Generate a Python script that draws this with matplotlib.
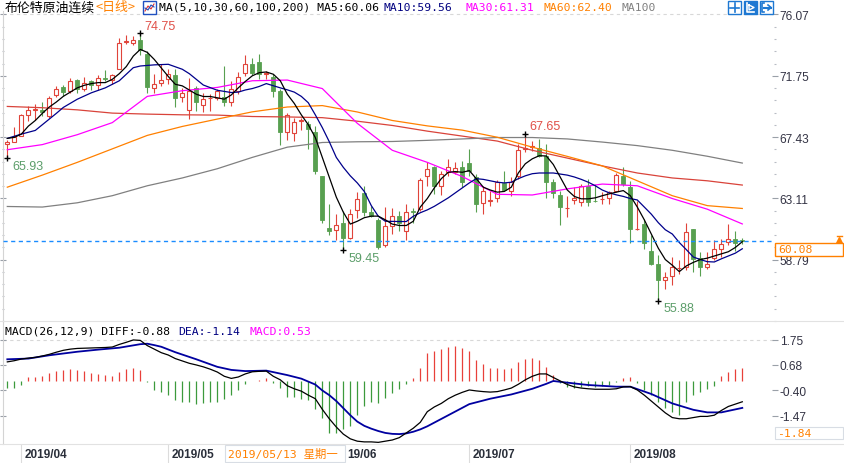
import numpy as np
import matplotlib
matplotlib.use("Agg")
import matplotlib.pyplot as plt
from matplotlib.patches import Rectangle
from matplotlib.lines import Line2D
from matplotlib.transforms import IdentityTransform

W, H = 845, 464

# ---------------- data ----------------
opens = [66.95, 67.10, 67.53, 69.00, 69.35, 69.35, 68.93, 70.43, 70.97, 70.66,
         71.44, 70.80, 71.37, 71.11, 71.60, 71.44, 72.25, 74.13, 74.03, 74.25,
         73.31, 70.92, 71.27, 71.50, 71.79, 70.29, 69.33, 70.92, 69.70, 70.15,
         70.22, 70.29, 69.87, 70.69, 71.93, 72.56, 72.72, 71.90, 71.69, 70.69,
         67.80, 67.69, 68.58, 68.34, 67.76, 64.67, 61.04, 60.90, 61.39, 60.31,
         62.26, 63.47, 62.14, 61.62, 59.80, 61.16, 61.86, 60.80, 62.20, 62.33,
         64.72, 65.30, 64.00, 64.95, 65.00, 65.30, 65.58, 64.60, 62.80, 62.96,
         63.12, 64.20, 63.66, 64.67, 66.60, 66.70, 66.63, 66.07, 64.25, 63.36,
         62.40, 63.00, 62.84, 63.97, 62.96, 63.05, 63.15, 63.66, 64.72, 63.90,
         60.92, 61.32, 59.40, 58.49, 57.34, 57.62, 58.20, 58.28, 60.92, 58.90,
         58.28, 58.90, 59.56, 60.03, 60.27, 60.15]
highs = [67.20, 68.11, 69.05, 69.59, 69.75, 69.87, 70.33, 71.04, 71.13, 71.60,
         71.51, 71.69, 71.44, 71.81, 72.14, 71.86, 74.39, 74.60, 74.55, 74.75,
         73.50, 71.86, 72.60, 72.21, 72.21, 70.92, 71.62, 71.04, 70.52, 70.45,
         70.80, 72.44, 71.39, 72.04, 73.21, 73.00, 73.26, 72.10, 71.86, 70.80,
         69.16, 68.81, 68.81, 68.58, 68.18, 64.72, 62.73, 62.02, 62.19, 62.33,
         63.54, 64.00, 62.60, 61.72, 62.49, 62.42, 62.19, 62.72, 62.42, 64.53,
         65.65, 65.42, 65.07, 65.89, 65.65, 65.77, 66.59, 64.83, 64.00, 63.66,
         64.43, 65.07, 64.60, 66.94, 67.65, 67.13, 67.29, 66.94, 64.48, 63.66,
         63.31, 63.90, 64.13, 64.48, 64.13, 63.54, 63.66, 64.90, 65.30, 64.36,
         62.96, 61.67, 60.50, 59.10, 57.93, 58.98, 58.74, 61.39, 60.97, 59.33,
         59.33, 60.15, 60.27, 61.32, 60.78, 60.30]
lows = [65.93, 67.05, 67.48, 68.58, 68.65, 68.93, 68.81, 70.29, 70.33, 70.52,
        70.52, 70.69, 70.76, 70.73, 71.37, 71.15, 72.21, 73.96, 73.89, 73.20,
        70.52, 70.52, 71.04, 71.15, 69.52, 69.87, 68.70, 69.28, 69.21, 69.28,
        70.05, 69.63, 69.59, 70.45, 71.74, 71.80, 71.50, 71.50, 70.29, 66.87,
        67.24, 67.17, 67.90, 66.60, 64.83, 61.39, 60.50, 60.15, 59.45, 60.22,
        61.72, 61.90, 61.79, 59.56, 59.68, 60.62, 60.80, 60.15, 61.39, 62.21,
        64.00, 63.43, 63.36, 64.72, 64.83, 63.90, 64.72, 62.14, 62.02, 62.56,
        62.89, 63.66, 63.31, 64.48, 66.35, 66.47, 66.00, 63.12, 63.12, 61.25,
        61.79, 62.72, 62.60, 62.56, 62.84, 62.72, 62.72, 63.54, 64.00, 59.99,
        60.90, 59.56, 58.39, 55.88, 56.76, 57.03, 57.80, 58.04, 57.93, 57.65,
        58.16, 58.74, 58.98, 59.80, 59.38, 59.90]
closes = [67.05, 67.41, 68.98, 69.33, 69.40, 69.21, 70.19, 70.85, 70.62, 71.37,
          70.85, 71.27, 71.13, 71.62, 71.55, 71.79, 74.03, 74.18, 74.25, 73.60,
          70.97, 71.20, 71.44, 71.86, 70.15, 70.57, 70.69, 69.91, 70.10, 70.20,
          70.69, 69.87, 70.80, 71.69, 72.56, 71.93, 71.90, 71.95, 70.69, 67.80,
          69.00, 68.46, 68.60, 67.99, 65.07, 61.62, 60.81, 61.20, 60.31, 62.02,
          63.08, 62.14, 61.86, 59.68, 61.16, 61.86, 61.39, 62.14, 62.15, 64.43,
          65.18, 64.00, 64.83, 65.30, 65.23, 64.29, 65.07, 62.72, 63.66, 62.98,
          64.25, 63.73, 64.29, 66.52, 66.65, 66.82, 66.07, 64.25, 63.47, 62.49,
          62.42, 63.12, 63.97, 62.89, 62.93, 63.08, 63.54, 64.76, 64.11, 60.92,
          60.97, 59.99, 58.46, 57.34, 57.57, 58.28, 58.23, 60.74, 58.86, 58.28,
          58.46, 59.56, 59.89, 60.22, 59.99, 60.08]

ma5 = [67.34, 67.41, 67.64, 68.20, 68.60, 69.10, 69.55, 69.90, 70.30, 70.60,
       70.90, 71.08, 71.20, 71.27, 71.27, 71.50, 71.90, 72.40, 73.14, 73.61,
       73.40, 72.90, 72.30, 71.70, 71.15, 71.04, 70.75, 70.45, 70.29, 70.29,
       70.20, 70.10, 70.40, 70.90, 71.35, 71.75, 71.97, 72.02, 71.86, 71.40,
       70.45, 69.80, 69.00, 68.30, 67.40, 66.00, 64.60, 63.20, 62.14, 61.30,
       61.50, 61.75, 61.86, 61.86, 61.60, 61.30, 61.20, 61.20, 61.50, 62.50,
       63.10, 63.85, 64.50, 64.95, 65.00, 64.95, 65.07, 64.50, 63.90, 63.70,
       63.55, 63.60, 63.90, 64.90, 65.55, 65.90, 66.12, 66.10, 65.50, 64.60,
       63.70, 63.25, 63.08, 63.08, 63.15, 63.30, 63.43, 63.55, 63.66, 63.30,
       62.50, 61.60, 60.60, 59.60, 58.80, 58.40, 57.95, 58.35, 58.60, 58.80,
       58.90, 59.05, 59.20, 59.35, 59.65, 60.06]

ma10_idx = [0, 2, 4, 5, 7, 8, 10, 12, 14, 16, 18, 19, 21, 23, 25, 26, 27, 28, 30, 32,
            33, 34, 35, 36, 37, 38, 39, 40, 41, 42, 43, 44, 45, 46, 47, 48, 49, 50, 51, 52,
            53, 54, 56, 57, 58, 59, 60, 61, 62, 63, 64, 65, 66, 67, 68, 69, 70, 71, 72, 73,
            74, 75, 76, 78, 80, 81, 82, 83, 84, 85, 86, 87, 88, 89, 90, 91, 92, 93, 94, 95,
            96, 97, 98, 99, 100, 101, 102, 103, 104, 105]
ma10 = [67.34, 67.64, 67.90, 68.30, 69.10, 69.52, 70.10, 70.55, 70.90, 71.40,
        72.32, 72.44, 72.52, 72.56, 72.21, 71.90, 71.50, 71.10, 70.73, 70.57,
        70.60, 70.75, 70.85, 71.00, 71.20, 71.05, 70.90, 70.76, 70.60, 70.30,
        69.85, 69.00, 68.10, 67.10, 66.00, 65.30, 64.70, 64.20, 63.60, 62.60,
        61.85, 61.50, 61.48, 61.48, 61.85, 62.10, 62.30, 62.55, 62.85, 63.15,
        63.50, 63.85, 64.20, 64.50, 64.45, 64.35, 64.25, 64.20, 64.25, 64.50,
        64.70, 64.85, 64.90, 64.90, 64.75, 64.62, 64.45, 64.25, 64.00, 63.70,
        63.50, 63.36, 63.25, 63.10, 63.00, 62.50, 62.00, 61.40, 60.90, 60.60,
        60.00, 59.50, 58.98, 58.80, 58.65, 58.63, 58.85, 59.05, 59.25, 59.56]

ma_long_idx = [0, 5, 10, 15, 20, 25, 30, 35, 40, 45, 50, 55, 60, 65, 70, 75, 80, 85, 90, 95, 100, 105]
ma30 = [66.54, 66.90, 67.60, 68.45, 70.30, 70.70, 70.93, 71.40, 71.45, 70.85, 68.40,
        66.50, 65.65, 64.65, 63.40, 63.35, 63.78, 64.12, 64.00, 63.10, 62.35, 61.31]
ma60 = [63.90, 64.75, 65.65, 66.60, 67.55, 68.18, 68.70, 69.21, 69.55, 69.65, 69.20,
        68.60, 68.22, 67.92, 67.42, 66.72, 66.07, 65.40, 64.35, 63.30, 62.60, 62.40]
ma100 = [62.54, 62.50, 62.80, 63.30, 64.00, 64.55, 65.20, 66.00, 66.72, 67.05, 67.10,
         67.12, 67.20, 67.30, 67.40, 67.40, 67.30, 67.08, 66.83, 66.50, 66.08, 65.60]
ma200 = [69.59, 69.50, 69.35, 69.12, 69.05, 69.00, 68.98, 68.88, 68.85, 68.80, 68.55,
         68.25, 67.85, 67.50, 67.15, 66.50, 65.95, 65.40, 64.90, 64.55, 64.35, 64.05]

diff = [0.81, 0.86, 0.93, 0.97, 1.00, 1.06, 1.13, 1.22, 1.30, 1.35,
        1.38, 1.39, 1.40, 1.41, 1.42, 1.44, 1.55, 1.64, 1.74, 1.72,
        1.50, 1.35, 1.20, 1.10, 0.95, 0.85, 0.75, 0.68, 0.60, 0.50,
        0.38, 0.20, 0.11, 0.17, 0.30, 0.39, 0.41, 0.42, 0.20, 0.05,
        -0.20, -0.33, -0.43, -0.60, -0.75, -1.20, -1.60, -1.95, -2.25, -2.45,
        -2.55, -2.58, -2.58, -2.60, -2.55, -2.50, -2.40, -2.20, -2.00, -1.75,
        -1.30, -1.10, -0.95, -0.75, -0.60, -0.48, -0.38, -0.42, -0.45, -0.47,
        -0.45, -0.38, -0.30, -0.14, 0.05, 0.20, 0.30, 0.30, 0.15, 0.00,
        -0.15, -0.25, -0.30, -0.33, -0.35, -0.35, -0.35, -0.33, -0.25, -0.24,
        -0.38, -0.60, -0.85, -1.10, -1.35, -1.55, -1.60, -1.60, -1.55, -1.50,
        -1.50, -1.45, -1.25, -1.08, -0.98, -0.88]
dea_idx = [0, 3, 6, 10, 13, 16, 19, 20, 21, 22, 24, 27, 30, 32, 34, 37, 40, 42, 44, 45,
           46, 47, 48, 49, 50, 51, 52, 53, 54, 55, 56, 57, 58, 59, 60, 63, 66, 69, 72, 75,
           77, 78, 80, 83, 87, 89, 92, 95, 98, 100, 102, 105]
dea = [0.92, 0.95, 1.09, 1.24, 1.33, 1.41, 1.56, 1.58, 1.52, 1.45,
       1.22, 0.92, 0.60, 0.47, 0.42, 0.44, 0.25, 0.10, -0.15, -0.40,
       -0.60, -0.85, -1.15, -1.45, -1.72, -1.90, -2.02, -2.12, -2.20, -2.24,
       -2.25, -2.22, -2.15, -2.05, -1.92, -1.45, -0.98, -0.75, -0.57, -0.33,
       -0.12, 0.00, -0.07, -0.17, -0.24, -0.24, -0.55, -0.95, -1.22, -1.33,
       -1.33, -1.14]
macd_hist = [-0.28, -0.28, -0.17, 0.15, 0.18, 0.21, 0.32, 0.43, 0.46, 0.52,
             0.46, 0.43, 0.32, 0.29, 0.25, 0.21, 0.39, 0.50, 0.57, 0.46,
             -0.05, -0.38, -0.45, -0.59, -0.80, -0.87, -0.91, -0.96, -0.94, -0.91,
             -0.87, -0.77, -0.59, -0.38, -0.13, 0.01, 0.04, 0.11, -0.07, -0.31,
             -0.66, -0.68, -0.77, -0.82, -1.19, -1.56, -2.19, -2.19, -2.05, -1.91,
             -1.42, -1.08, -0.87, -0.94, -0.73, -0.52, -0.35, -0.13, 0.11, 0.53,
             1.19, 1.27, 1.37, 1.44, 1.49, 1.41, 1.27, 0.88, 0.74, 0.53,
             0.53, 0.49, 0.53, 0.81, 0.95, 0.99, 0.91, 0.60, 0.25, -0.10,
             -0.24, -0.31, -0.24, -0.21, -0.24, -0.21, -0.17, -0.03, 0.11, 0.15,
             -0.10, -0.38, -0.59, -0.87, -1.15, -1.33, -1.42, -0.91, -0.59, -0.45,
             -0.35, -0.21, 0.20, 0.40, 0.50, 0.53]

month_idx = [2, 23, 46, 66, 89]
# the June label is partly hidden behind the cursor date box; only "19/06" shows
month_labels = ["2019/04", "2019/05", "19/06", "2019/07", "2019/08"]
month_label_shift = [3, 3, 17.5, 3, 3]
price_ticks = [58.79, 63.11, 67.43, 71.75, 76.07]
macd_ticks = [-1.47, -0.40, 0.68, 1.75]
last_price = 60.08
extremes = [(19, 74.75, "hi"), (0, 65.93, "lo"), (48, 59.45, "lo"),
            (74, 67.65, "hi"), (93, 55.88, "lo")]

# ---------------- styling ----------------
RED = "#e0443a"
GREEN = "#58a050"
ORANGE = "#ff8000"
NAVY = "#00008b"
MONO = "DejaVu Sans Mono"
CJK = ["Noto Sans CJK SC", "DejaVu Sans"]
SANS = "Liberation Sans"

fig = plt.figure(figsize=(W / 100, H / 100), dpi=100)
fig.patch.set_facecolor("white")


def px_axes(x0, y0, x1, y1):
    return fig.add_axes([x0 / W, 1 - y1 / H, (x1 - x0) / W, (y1 - y0) / H])


def ptext(x, y, s, **kw):
    kw.setdefault("va", "center")
    kw.setdefault("ha", "left")
    return fig.text(x, H - y, s, transform=IdentityTransform(), **kw)


def prect(x0, y0, x1, y1, **kw):
    r = Rectangle((x0, H - y1), x1 - x0, y1 - y0, transform=IdentityTransform(), **kw)
    fig.add_artist(r)
    return r


def pline(xs, ys, **kw):
    ln = Line2D(xs, [H - y for y in ys], transform=IdentityTransform(), **kw)
    fig.add_artist(ln)
    return ln


XL = (3 - 7.3) / 7.0
XR = (775 - 7.3) / 7.0

ax = px_axes(3, 12, 775, 322)
am = px_axes(3, 322, 775, 445)
ad = px_axes(3, 445, 775, 464)

for a in (ax, am, ad):
    a.set_xlim(XL, XR)
    a.set_xticks([])
    for s in ("top", "right", "bottom"):
        a.spines[s].set_visible(False)
    a.spines["left"].set_color("#d4d4d4")
    a.spines["left"].set_linewidth(0.8)
    a.patch.set_alpha(0)

# ---- price panel ----
ax.set_ylim(76.07 - 306.5 / 14.236, 76.07 + 3.5 / 14.236)
x = np.arange(len(closes))
o = np.array(opens); h = np.array(highs); l = np.array(lows); c = np.array(closes)
up = c >= o
dn = ~up

ax.vlines(x[up], np.maximum(o, c)[up], h[up], color=RED, lw=0.8, zorder=2)
ax.vlines(x[up], l[up], np.minimum(o, c)[up], color=RED, lw=0.8, zorder=2)
ax.bar(x[up], (c - o)[up], bottom=o[up], width=0.58, facecolor="white",
       edgecolor=RED, linewidth=0.8, zorder=3)
ax.vlines(x[dn], l[dn], h[dn], color=GREEN, lw=0.8, zorder=2)
ax.bar(x[dn], (c - o)[dn], bottom=o[dn], width=0.62, facecolor=GREEN,
       edgecolor=GREEN, linewidth=0.6, zorder=3)

ax.plot(ma_long_idx, ma200, color="#d9433a", lw=0.9, zorder=4)
ax.plot(ma_long_idx, ma100, color="#808080", lw=0.9, zorder=4)
ax.plot(ma_long_idx, ma60, color=ORANGE, lw=0.9, zorder=4)
ax.plot(ma_long_idx, ma30, color="#ff00ff", lw=0.9, zorder=4)
ax.plot(ma10_idx, ma10, color=NAVY, lw=0.9, zorder=4)
ax.plot(x, ma5, color="black", lw=0.9, zorder=5)

ax.axhline(last_price, color="#1a8cff", lw=1.0, ls=(0, (3, 2.5)), zorder=5)
ax.axhline(price_ticks[-1], color="#d8d8d8", lw=0.8, ls=(0, (3, 3)), zorder=1)

for idx, val, kind in extremes:
    ax.plot(idx, val, marker="+", color="black", ms=5, mew=1, zorder=6)
    if kind == "hi":
        ax.annotate(f"{val:.2f}", (idx, val), xytext=(4, 7.5), textcoords="offset pixels",
                    ha="left", va="center", color="#e05048", fontsize=9, family=SANS)
    else:
        ax.annotate(f"{val:.2f}", (idx, val), xytext=(5, -7.5), textcoords="offset pixels",
                    ha="left", va="center", color="#5c9e6a", fontsize=9, family=SANS)

ax.yaxis.tick_right()
ax.set_yticks(price_ticks)
ax.set_yticklabels([f"{v:.2f}" for v in price_ticks])
ax.set_yticks(np.arange(price_ticks[0] - 4.32, 76.1, 0.864), minor=True)
ax.tick_params(axis="y", which="major", direction="inout", length=4, width=0.8,
               color="#9aa0a8", pad=1.5, labelsize=8.6, labelcolor="#333344",
               left=True, right=True)
ax.tick_params(axis="y", which="minor", direction="inout", length=2, width=0.8,
               color="#b8bcc4", left=True, right=True)
for t in ax.get_yticklabels():
    t.set_family(SANS)

# ---- MACD panel ----
am.set_ylim(1.75 - 104.3 / 23.6, 1.75 + 18.7 / 23.6)
hist = np.array(macd_hist)
am.vlines(x[hist >= 0], 0, hist[hist >= 0], color="#e8403a", lw=0.9)
am.vlines(x[hist < 0], 0, hist[hist < 0], color="#3c9a3c", lw=0.9)
am.plot(x, diff, color="black", lw=0.9, zorder=4)
am.plot(dea_idx, dea, color="#0000a0", lw=1.3, zorder=3)
am.axhline(macd_ticks[-1], color="#d8d8d8", lw=0.8, ls=(0, (3, 3)), zorder=1)
am.yaxis.tick_right()
am.set_yticks(macd_ticks)
am.set_yticklabels([f"{v:.2f}" for v in macd_ticks])
am.tick_params(axis="y", direction="inout", length=4, width=0.8, color="#9aa0a8",
               pad=1.5, labelsize=8.6, labelcolor="#333344", left=True, right=True)
for t in am.get_yticklabels():
    t.set_family(SANS)

# ---- date strip ----
ad.set_ylim(0, 1)
ad.set_yticks([])
ad.spines["left"].set_visible(False)
ad.vlines(month_idx, 0, 1, color="#dcdcdc", lw=0.8)
for m, lab, dx in zip(month_idx, month_labels, month_label_shift):
    ad.annotate(lab, (m, 0.45), xytext=(dx, 0), textcoords="offset pixels", ha="left",
                va="center", fontsize=8.5, fontweight="bold", color="#2a2f3a", family=SANS)

# panel separators
pline([0, 845], [322, 322], color="#e2e2e2", lw=0.8)
pline([0, 845], [445, 445], color="#e2e2e2", lw=0.8)

# ---- header text ----
ptext(5, 8, "布伦特原油连续", family=CJK, fontsize=9.3, color="black")
ptext(96, 8, "<日线>", family=CJK, fontsize=9.3, color=ORANGE)
prect(143, 2, 156, 15, facecolor="white", edgecolor="#2050c0", lw=1)
pline([145, 148, 151, 154], [12, 7, 10, 5], color="#e03030", lw=0.8)
pline([145, 148, 151, 154], [9, 11, 6, 8], color="#2050c0", lw=0.8)
ptext(159, 8, "MA(5,10,30,60,100,200) MA5:60.06", family=MONO, fontsize=8.2, color="black")
ptext(383, 8, "MA10:59.56", family=MONO, fontsize=8.2, color="#000080")
ptext(465, 8, "MA30:61.31", family=MONO, fontsize=8.2, color="#ff00ff")
ptext(543, 8, "MA60:62.40", family=MONO, fontsize=8.2, color=ORANGE)
ptext(621, 8, "MA100", family=MONO, fontsize=8.2, color="#808080")

# toolbar icons
BLUE = "#1e78d2"
prect(728, 2, 741, 15, facecolor="white", edgecolor=BLUE, lw=1)
pline([734.5, 734.5], [4, 13], color=BLUE, lw=1.2)
pline([730, 739], [8.5, 8.5], color=BLUE, lw=1.2)
prect(744, 2, 757, 15, facecolor=BLUE, edgecolor=BLUE, lw=1)
pline([747, 747, 754], [4, 13, 13], color="white", lw=1.2)
pline([749, 749, 754, 749], [6, 11, 8.5, 6], color="white", lw=1.0)
prect(760, 2, 773, 15, facecolor="white", edgecolor=BLUE, lw=1)
pline([764, 762, 762, 764], [4, 4, 13, 13], color=BLUE, lw=1.2)
pline([764, 771], [8.5, 8.5], color=BLUE, lw=1.5)
pline([768, 771, 768], [6, 8.5, 11], color=BLUE, lw=1.2)

# last price box on the axis
prect(775, 244, 843, 257, facecolor="white", edgecolor=ORANGE, lw=1, zorder=5)
ptext(778, 250.5, "60.08", family=MONO, fontsize=8.2, color=ORANGE, zorder=6)
pline([839], [240.5], marker="^", ms=4.5, color=ORANGE, lw=0)
pline([836.5, 841.5], [236.5, 236.5], color=ORANGE, lw=1)

# MACD cursor value box
prect(775, 428, 843, 440, facecolor="white", edgecolor="#d8dde4", lw=0.8, zorder=5)
ptext(777, 434, "-1.84", family=MONO, fontsize=8.2, color=ORANGE, zorder=6)

# MACD header
ptext(5, 332, "MACD(26,12,9) DIFF:-0.88", family=MONO, fontsize=8.2, color="black")
ptext(178, 332, "DEA:-1.14", family=MONO, fontsize=8.2, color="#000080")
ptext(249, 332, "MACD:0.53", family=MONO, fontsize=8.2, color="#ff00ff")

# cursor date box
prect(225, 446, 345, 463, facecolor="white", edgecolor="#d8dde4", lw=0.8, zorder=5)
ptext(228, 454.5, "2019/05/13 星期一", family=[MONO, "Noto Sans CJK SC"], fontsize=8.2,
      color=ORANGE, zorder=6)

fig.savefig("out.png", dpi=100)
